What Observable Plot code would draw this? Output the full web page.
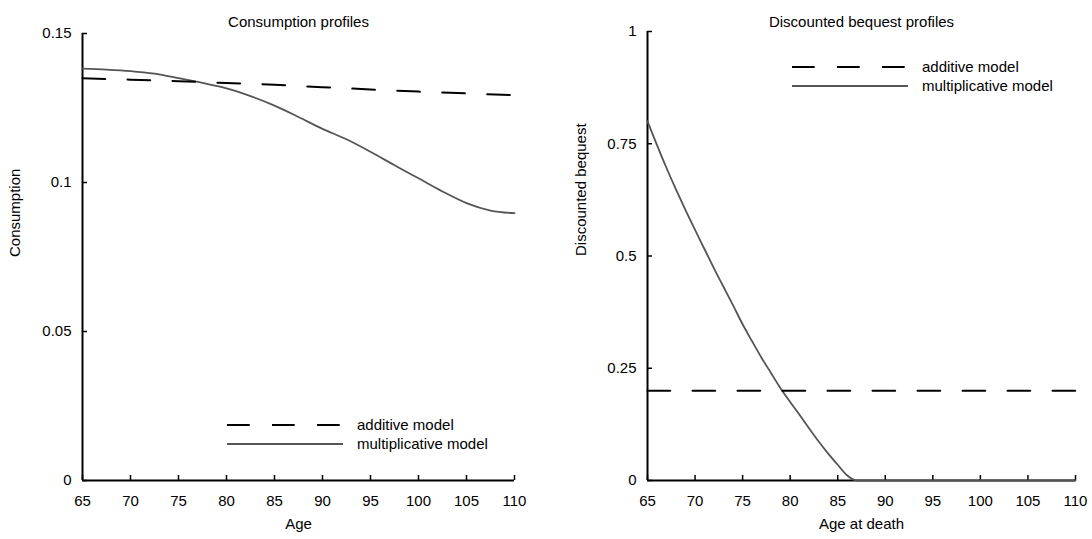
<!DOCTYPE html>
<html><head><meta charset="utf-8">
<script src="https://cdn.jsdelivr.net/npm/d3@7"></script>
<script src="https://cdn.jsdelivr.net/npm/@observablehq/plot@0.6"></script>
<style>
body{margin:0;background:#fff;}
#wrap{display:flex;width:1092px;height:539px;}
#wrap svg{display:block;}
</style></head><body><div id="wrap"></div>
<script>
// ---------- data ----------
const ageTicks = [65,70,75,80,85,90,95,100,105,110];
const ageTickLabels = ["65","70","75","80","85","90","95","100","105","110"];

const consYTicks = [0,0.05,0.1,0.15];
const consYLabels = ["0","0.05","0.1","0.15"];
const bqYTicks = [0,0.25,0.5,0.75,1];
const bqYLabels = ["0","0.25","0.5","0.75","1"];

const seriesNames = ["additive model","multiplicative model"];

const consAddAges = [65,70,75,80,85,90,95,100,105,110];
const consAdditive = [0.1350,0.1345,0.1340,0.1334,0.1328,0.1320,0.1312,0.1305,0.1299,0.1293];

const consMultAges = [65,67.5,70,72.5,75,77.5,80,82.5,85,87.5,90,92.5,95,97.5,100,102.5,105,107.5,110];
const consMultiplicative = [0.1382,0.1379,0.1374,0.1365,0.1350,0.1334,0.1316,0.1290,0.1258,0.1220,0.1180,0.1145,0.1103,0.1058,0.1014,0.0970,0.0931,0.0906,0.0897];

const bqAddAges = [65,110];
const bqAdditive = [0.2,0.2];

const bqMultAges = [65,66,67,68,69,70,71,72,73,74,75,76,77,78,79,80,81,82,83,84,85,86,87,110];
const bqMultiplicative = [0.800,0.747,0.696,0.648,0.602,0.558,0.515,0.472,0.431,0.390,0.348,0.310,0.273,0.239,0.205,0.175,0.146,0.116,0.087,0.060,0.035,0.011,0,0];

// ---------- drawing ----------
const FONT = '"Liberation Sans", Arial, Helvetica, sans-serif';
const FS = 15;
const DASH = "22.7,22.3";
const GREY = "#555555";

function panel(opt) {
  const W = 546, H = 539;
  const fw = W - opt.ml - opt.mr, fh = H - opt.mt - opt.mb;
  const addData = opt.addAges.map((a, i) => ({age: a, v: opt.add[i]}));
  const multData = opt.multAges.map((a, i) => ({age: a, v: opt.mult[i]}));
  const svg = Plot.plot({
    width: W, height: H,
    marginLeft: opt.ml, marginRight: opt.mr, marginTop: opt.mt, marginBottom: opt.mb,
    style: {fontFamily: FONT, fontSize: FS + "px", color: "#000", background: "#fff", overflow: "visible"},
    x: {domain: [65, 110], ticks: ageTicks, tickSize: 0, tickPadding: 15, label: null,
        tickFormat: d => ageTickLabels[ageTicks.indexOf(d)]},
    y: {domain: opt.yDomain, ticks: opt.yTicks, tickSize: 0, tickPadding: 11, label: null,
        tickFormat: d => opt.yLabels[opt.yTicks.indexOf(d)]},
    marks: [
      Plot.ruleY([opt.yDomain[0]], {stroke: "#000", strokeWidth: 2}),
      Plot.ruleX([65], {stroke: "#000", strokeWidth: 2}),
      Plot.ruleX(ageTicks, {x: d => d, insetTop: fh - 5, stroke: "#000", strokeWidth: 1.5}),
      Plot.ruleY(opt.yTicks, {y: d => d, insetRight: fw - 5, stroke: "#000", strokeWidth: 1.5}),
      Plot.line(multData, {x: "age", y: "v", stroke: GREY, strokeWidth: 1.8, curve: "monotone-x"}),
      Plot.line(addData, {x: "age", y: "v", stroke: "#000", strokeWidth: 2, strokeDasharray: DASH}),
      Plot.text([opt.title], {text: d => d, frameAnchor: "top", dy: opt.titleDy, fontSize: FS}),
      Plot.text([opt.xlabel], {text: d => d, frameAnchor: "bottom", dy: 48, fontSize: FS}),
      Plot.text([opt.ylabel], {text: d => d, frameAnchor: "left", dx: opt.ylabelDx, rotate: -90, fontSize: FS})
    ]
  });
  // legend
  const g = d3.select(svg).append("g").attr("font-family", FONT).attr("font-size", FS)
    .attr("text-anchor", "start");
  const L = opt.legend;
  g.append("line").attr("x1", L.x0).attr("x2", L.x1).attr("y1", L.y0).attr("y2", L.y0)
    .attr("stroke", "#000").attr("stroke-width", 2).attr("stroke-dasharray", DASH);
  g.append("line").attr("x1", L.x0).attr("x2", L.x1).attr("y1", L.y1).attr("y2", L.y1)
    .attr("stroke", GREY).attr("stroke-width", 1.8);
  g.append("text").attr("x", L.xt).attr("y", L.y0).attr("dy", "0.32em").attr("text-anchor", "start").text(seriesNames[0]);
  g.append("text").attr("x", L.xt).attr("y", L.y1).attr("dy", "0.32em").attr("text-anchor", "start").text(seriesNames[1]);
  return svg;
}

const wrap = document.getElementById("wrap");
wrap.append(panel({
  ml: 82, mr: 32, mt: 33, mb: 59,
  yDomain: [0, 0.15], yTicks: consYTicks, yLabels: consYLabels,
  addAges: consAddAges, add: consAdditive, multAges: consMultAges, mult: consMultiplicative,
  title: "Consumption profiles", titleDy: -17, xlabel: "Age", ylabel: "Consumption", ylabelDx: -67,
  legend: {x0: 227, x1: 343, xt: 357, y0: 425, y1: 444}
}));
wrap.append(panel({
  ml: 101, mr: 17, mt: 31, mb: 59,
  yDomain: [0, 1], yTicks: bqYTicks, yLabels: bqYLabels,
  addAges: bqAddAges, add: bqAdditive, multAges: bqMultAges, mult: bqMultiplicative,
  title: "Discounted bequest profiles", titleDy: -15, xlabel: "Age at death", ylabel: "Discounted bequest", ylabelDx: -66,
  legend: {x0: 246, x1: 362, xt: 376, y0: 67, y1: 86}
}));
</script></body></html>
